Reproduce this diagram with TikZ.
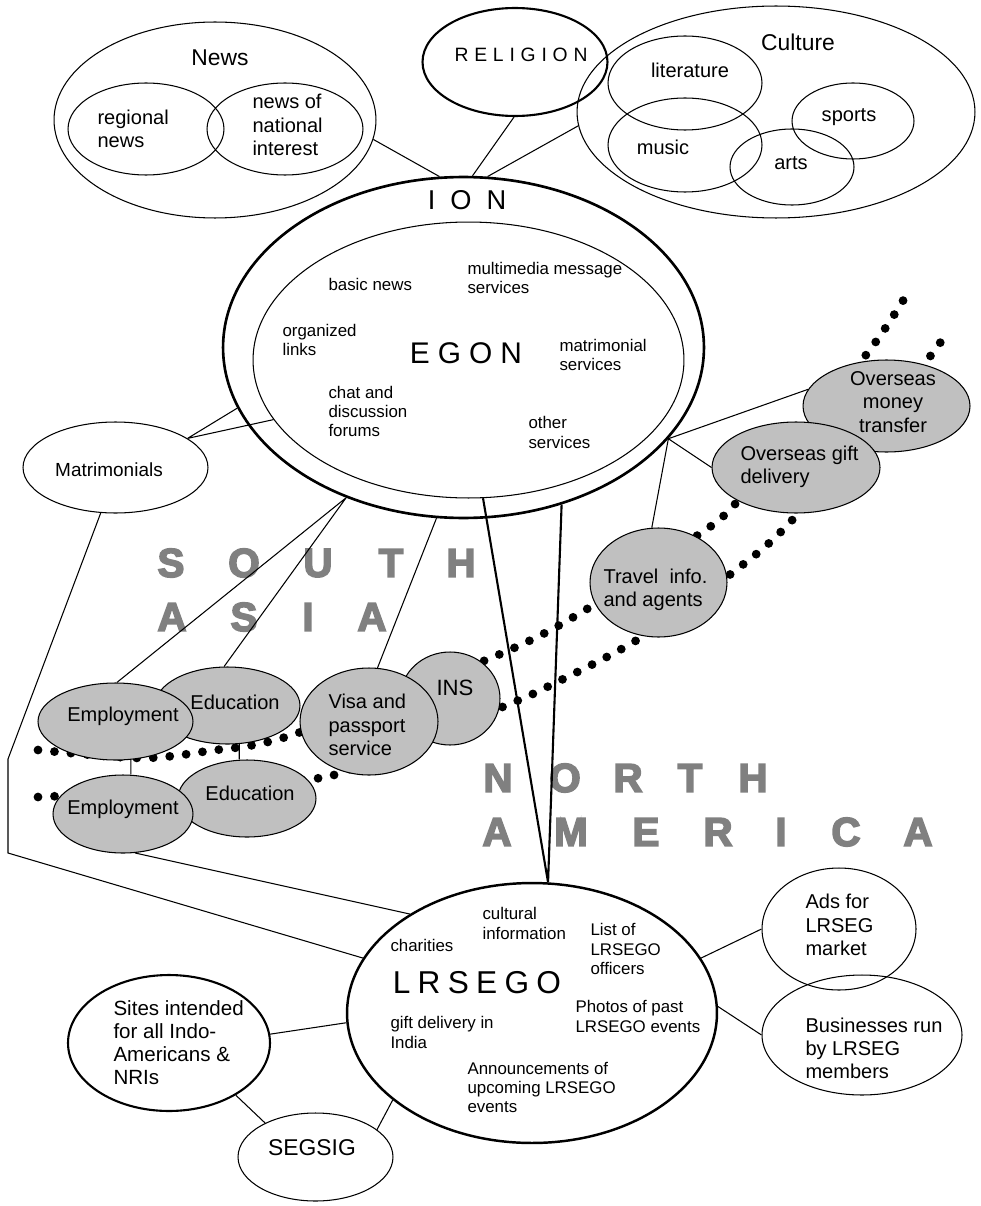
\documentclass[tikz,border=0pt]{standalone}
\usepackage{fontspec}
\setmainfont{Liberation Sans}
\usetikzlibrary{shapes}
\definecolor{fillgray}{RGB}{192,192,192}
\definecolor{regiongray}{RGB}{128,128,128}
\tikzstyle{blob}=[draw, ellipse, inner sep=0pt]
\tikzstyle{grayblob}=[blob, fill=fillgray]
\tikzstyle{headtext}=[inner sep=0pt, font=\fontsize{13}{15}\selectfont]
\tikzstyle{itemtext}=[inner sep=0pt, align=left, font=\fontsize{11.4}{13.2}\selectfont]
\tikzstyle{smalltext}=[inner sep=0pt, align=left, font=\fontsize{9.6}{11}\selectfont]
\tikzstyle{regionletter}=[inner sep=0pt, text=regiongray, font={\fontsize{23}{26}\selectfont\bfseries\addfontfeatures{FakeBold=4}}]
\tikzstyle{dotline}=[line width=5pt, line cap=round, dash pattern=on 0pt off 9.4pt]

\begin{document}
\begin{tikzpicture}[x=0.02cm,y=-0.02cm,line width=0.6pt]
\useasboundingbox (0,0) rectangle (980,1206);

% dotted borders between the regions
\draw[dotline] plot[smooth] coordinates {(38,750) (140,758) (208,751) (292,735)
  (498,655) (587,609) (698,535) (737,502) (862,360) (910,289)};
\draw[dotline] plot[smooth] coordinates {(38,797) (180,790) (309,779) (342,772)
  (500,708) (547,687) (637,640) (732,573) (795,517) (928,359) (946,330)};

% region names
\foreach \l/\x [count=\i] in {S/171,O/244,U/318,T/391,H/461}
  \node[regionletter] (south\i) at (\x,563) {\l};
\foreach \l/\x [count=\i] in {A/172,S/244,I/308,A/372}
  \node[regionletter] (asia\i) at (\x,617) {\l};
\foreach \l/\x [count=\i] in {N/498,O/565,R/628,T/690,H/753}
  \node[regionletter] (north\i) at (\x,778) {\l};
\foreach \l/\x [count=\i] in {A/497,M/571,E/646,R/718,I/781,C/846,A/918}
  \node[regionletter] (america\i) at (\x,832) {\l};

% news, religion, culture
\node[blob, minimum width=6.44cm, minimum height=3.92cm] (news) at (215,120) {};
\node[blob, minimum width=3.12cm, minimum height=1.84cm] (regional) at (146,129) {};
\node[blob, minimum width=3.12cm, minimum height=1.84cm] (national) at (285,129) {};
\node[blob, line width=1.2pt, minimum width=3.7cm, minimum height=2.16cm] (religion) at (515,62) {};
\node[blob, minimum width=7.96cm, minimum height=4.24cm] (culture) at (776,112) {};
\node[blob, minimum width=3.08cm, minimum height=1.88cm] (literature) at (685,83) {};
\node[blob, minimum width=3.08cm, minimum height=1.88cm] (music) at (685,145) {};
\node[blob, minimum width=2.44cm, minimum height=1.52cm] (sports) at (853,121) {};
\node[blob, minimum width=2.48cm, minimum height=1.52cm] (arts) at (792,167) {};

\node[headtext] (newslbl) at (220,58) {News};
\node[itemtext, anchor=west] (regionallbl) at (97,128.5) {regional\\news};
\node[itemtext, anchor=west] (nationallbl) at (252,125) {news of\\national\\interest};
\node[inner sep=0pt, font={\fontsize{11}{13}\selectfont\addfontfeatures{LetterSpace=30}}] (religionlbl) at (521,55) {RELIGION};
\node[headtext] (culturelbl) at (798,42) {Culture};
\node[itemtext] (literaturelbl) at (690,70) {literature};
\node[itemtext] (musiclbl) at (663,147) {music};
\node[itemtext] (sportslbl) at (849,117) {sports};
\node[itemtext] (artslbl) at (791,163) {arts};

% ION and EGON
\node[blob, line width=1.5pt, minimum width=9.62cm, minimum height=6.82cm] (ion) at (463.5,347.5) {};
\node[blob, minimum width=8.62cm, minimum height=5.52cm] (egon) at (468.5,360) {};
\node[inner sep=0pt, font={\fontsize{15.5}{18}\selectfont\addfontfeatures{LetterSpace=55}}] (ionlbl) at (467,200) {ION};
\node[inner sep=0pt, font={\fontsize{17}{20}\selectfont\addfontfeatures{LetterSpace=27}}] (egonlbl) at (466,353) {EGON};
\node[smalltext, anchor=west] (basicnews) at (328,284) {basic news};
\node[smalltext, anchor=west] (multimedia) at (467,278) {multimedia message\\services};
\node[smalltext, anchor=west] (organized) at (282,340) {organized\\links};
\node[smalltext, anchor=west] (matrservices) at (559,355) {matrimonial\\services};
\node[smalltext, anchor=west] (chat) at (328,411.5) {chat and\\discussion\\forums};
\node[smalltext, anchor=west] (other) at (528,432.5) {other\\services};

% south asia side
\node[blob, minimum width=3.7cm, minimum height=1.82cm] (matr) at (115.5,467.5) {};
\node[itemtext, font=\fontsize{10.8}{13}\selectfont] (matrlbl) at (109,470) {Matrimonials};
\node[grayblob, minimum width=2.9cm, minimum height=1.54cm] (eduU) at (227.5,705.5) {};
\node[grayblob, minimum width=3.1cm, minimum height=1.54cm] (empU) at (115.5,721.5) {};
\node[grayblob, minimum width=2.0cm, minimum height=1.86cm] (ins) at (450,698.5) {};
\node[grayblob, minimum width=2.76cm, minimum height=2.14cm] (visa) at (369,721.5) {};
\node[grayblob, minimum width=2.76cm, minimum height=1.54cm] (eduL) at (247,798.5) {};
\node[grayblob, minimum width=2.8cm, minimum height=1.56cm] (empL) at (123,814) {};
\node[itemtext] (eduUlbl) at (235,702) {Education};
\node[itemtext] (empUlbl) at (123,716) {Employment};
\node[itemtext, font=\fontsize{12.6}{15}\selectfont] (inslbl) at (455,688) {INS};
\node[itemtext, anchor=west] (visalbl) at (328,725) {Visa and\\passport\\service};
\node[itemtext] (eduLlbl) at (250,793) {Education};
\node[itemtext] (empLlbl) at (123,809) {Employment};

% overseas services
\node[grayblob, minimum width=2.74cm, minimum height=2.18cm] (travel) at (658.5,582.5) {};
\node[grayblob, minimum width=3.34cm, minimum height=1.84cm] (money) at (886.5,406) {};
\node[grayblob, minimum width=3.36cm, minimum height=1.82cm] (gift) at (796,467.5) {};
\node[itemtext, anchor=west] (travellbl) at (603,590) {Travel\ \ info.\\and agents};
\node[itemtext, align=center] (moneylbl) at (893,402) {Overseas\\money\\transfer};
\node[itemtext, anchor=west] (giftlbl) at (740,466.5) {Overseas gift\\delivery};

% LRSEGO and the local sites
\node[blob, line width=1.4pt, minimum width=7.4cm, minimum height=5.2cm] (lrsego) at (532,1013) {};
\node[inner sep=0pt, font={\fontsize{18}{21}\selectfont\addfontfeatures{LetterSpace=23}}] (lrsegolbl) at (477,983) {LRSEGO};
\node[smalltext, anchor=west] (charities) at (390,945) {charities};
\node[smalltext, anchor=west] (cultural) at (482,923.5) {cultural\\information};
\node[smalltext, anchor=west] (officers) at (590,949) {List of\\LRSEGO\\officers};
\node[smalltext, anchor=west] (giftindia) at (390,1032.5) {gift delivery in\\India};
\node[smalltext, anchor=west] (photos) at (575,1016.5) {Photos of past\\LRSEGO events};
\node[smalltext, anchor=west] (announce) at (467,1087.5) {Announcements of\\upcoming LRSEGO\\events};

\node[blob, minimum width=3.08cm, minimum height=2.44cm] (ads) at (839,929) {};
\node[blob, minimum width=4.0cm, minimum height=2.4cm] (business) at (862,1035) {};
\node[blob, line width=1.2pt, minimum width=4.04cm, minimum height=2.72cm] (sites) at (169,1043) {};
\node[blob, minimum width=3.1cm, minimum height=1.76cm] (segsig) at (315.5,1157) {};
\node[itemtext, anchor=west] (adslbl) at (805,925) {Ads for\\LRSEG\\market};
\node[itemtext, anchor=west] (businesslbl) at (805,1048.5) {Businesses run\\by LRSEG\\members};
\node[itemtext, anchor=west, font=\fontsize{11.7}{13}\selectfont] (siteslbl) at (113,1042.5) {Sites intended\\for all Indo-\\Americans \&\\NRIs};
\node[headtext] (segsiglbl) at (312,1148) {SEGSIG};

% connectors
\coordinate (bendtop) at (8,759);
\coordinate (bendbot) at (8,853);
\draw (news.-7) -- (ion.98)
      (religion.269) -- (ion.87)
      (culture.184) -- (ion.82);
\draw (matr.22) -- (ion.195)
      (matr.22) -- (egon.197);
\draw (ion.232) -- (empU.88)
      (ion.232) -- (eduU.95)
      (ion.261) -- (visa.81);
\draw (ion.-24) -- (money.168)
      (ion.-24) -- (gift.180)
      (ion.-24) -- (travel.97);
\draw (empU.-68) -- (empU.-68 |- empL.north)
      (eduU.-73) -- (eduU.-73 |- eduL.north)
      (empL.-73) -- (lrsego.141);
\draw (matr.252) -- (bendtop) -- (bendbot) -- (lrsego.162);
\draw (sites.5) -- (lrsego.183)
      (sites.-38) -- (segsig.146)
      (segsig.24) -- (lrsego.212)
      (lrsego.18) -- (ads.180)
      (lrsego.2) -- (business.180);
\draw[line width=1.2pt] (egon.276) -- (lrsego.83)
      (ion.302) -- (lrsego.83);

\end{tikzpicture}
\end{document}
